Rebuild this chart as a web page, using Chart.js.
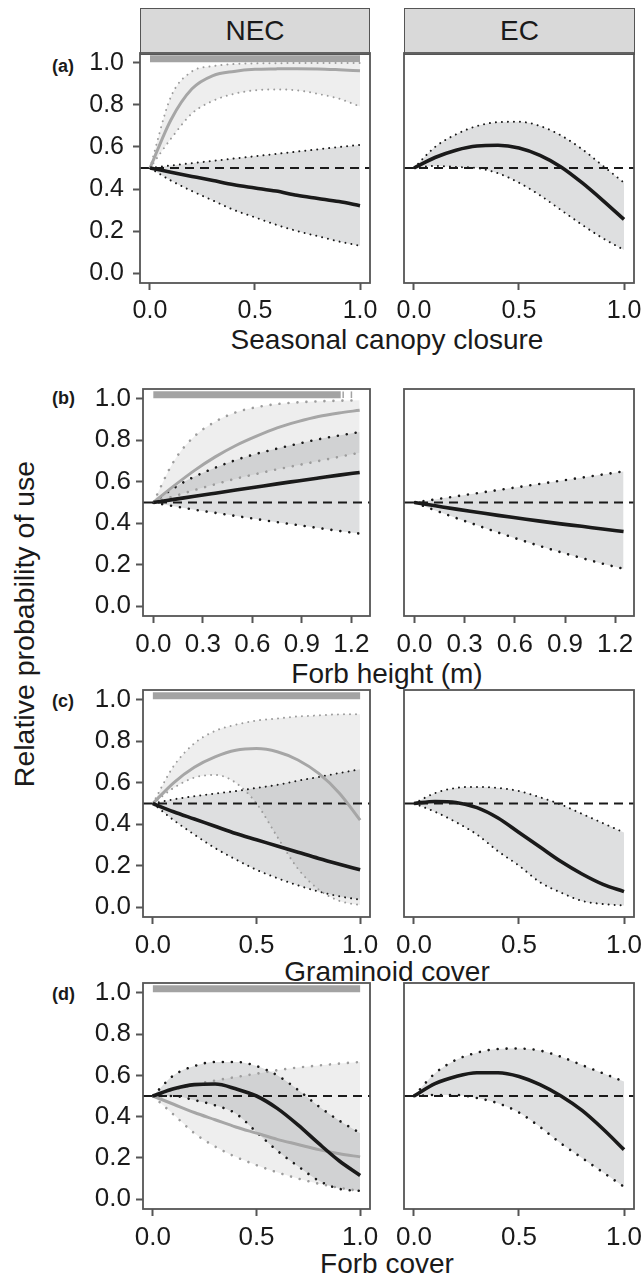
<!DOCTYPE html>
<html>
<head>
<meta charset="utf-8">
<script src="https://cdn.jsdelivr.net/npm/chart.js@4.4.1/dist/chart.umd.min.js"></script>
<style>
  body { margin: 0; width: 643px; height: 1277px; background: #fff; position: relative; overflow: hidden;
         font-family: "Liberation Sans", Arial, sans-serif; color: #1a1a1a; }
  canvas { position: absolute; }
  .strip { position: absolute; background: #d9d9d9; border: 1.6px solid #555; box-sizing: border-box;
           text-align: center; font-size: 28px; line-height: 44px; }
  .txt { position: absolute; transform: translate(-50%, -50%); white-space: nowrap; font-size: 28px; }
  .tag { position: absolute; font-size: 18px; font-weight: bold; transform: translateY(-50%); }
</style>
</head>
<body>
<div class="strip" style="left:140px;top:8px;width:230px;height:47px;">NEC</div>
<div class="strip" style="left:404px;top:8px;width:231px;height:47px;">EC</div>

<div class="tag" style="left:52px;top:66px;">(a)</div>
<div class="tag" style="left:52px;top:398px;">(b)</div>
<div class="tag" style="left:52px;top:701px;">(c)</div>
<div class="tag" style="left:52px;top:994px;">(d)</div>

<div class="txt" style="left:387px;top:340px;">Seasonal canopy closure</div>
<div class="txt" style="left:387px;top:674px;">Forb height (m)</div>
<div class="txt" style="left:387px;top:972px;">Graminoid cover</div>
<div class="txt" style="left:387px;top:1264px;">Forb cover</div>
<div class="txt" style="left:24px;top:624px;font-size:28.5px;transform:translate(-50%,-50%) rotate(-90deg);">Relative probability of use</div>

<script>
// x positions of the fitted curves
const xUnit = [0, 0.1, 0.2, 0.3, 0.4, 0.5, 0.6, 0.7, 0.8, 0.9, 1.0];
const xHeight = [0, 0.125, 0.25, 0.375, 0.5, 0.625, 0.75, 0.875, 1.0, 1.125, 1.25];

// tick labels
const ticksUnit = [0, 0.5, 1.0];
const ticksHeight = [0, 0.3, 0.6, 0.9, 1.2];
const ticksY = [0, 0.2, 0.4, 0.6, 0.8, 1.0];

// (a) seasonal canopy closure
const canopyNecDark   = [0.5, 0.48, 0.46, 0.44, 0.42, 0.405, 0.39, 0.37, 0.355, 0.34, 0.32];
const canopyNecDarkHi = [0.5, 0.512, 0.523, 0.534, 0.545, 0.556, 0.567, 0.578, 0.589, 0.6, 0.61];
const canopyNecDarkLo = [0.5, 0.44, 0.39, 0.345, 0.3, 0.265, 0.23, 0.2, 0.175, 0.15, 0.13];
const canopyNecLight   = [0.5, 0.73, 0.877, 0.94, 0.96, 0.97, 0.972, 0.973, 0.972, 0.968, 0.963];
const canopyNecLightHi = [0.5, 0.84, 0.96, 0.985, 0.995, 0.998, 0.999, 1.0, 1.0, 1.0, 1.0];
const canopyNecLightLo = [0.5, 0.64, 0.76, 0.82, 0.853, 0.87, 0.874, 0.87, 0.853, 0.83, 0.793];
const canopyEc   = [0.5, 0.55, 0.585, 0.605, 0.608, 0.595, 0.56, 0.505, 0.43, 0.345, 0.255];
const canopyEcHi = [0.5, 0.6, 0.66, 0.7, 0.718, 0.72, 0.7, 0.655, 0.59, 0.51, 0.43];
const canopyEcLo = [0.5, 0.51, 0.505, 0.5, 0.475, 0.43, 0.37, 0.3, 0.23, 0.165, 0.11];
const canopyBar = [0, 1.0];

// (b) forb height
const heightNecDark   = [0.5, 0.515, 0.53, 0.545, 0.56, 0.575, 0.59, 0.604, 0.618, 0.632, 0.645];
const heightNecDarkHi = [0.5, 0.57, 0.625, 0.668, 0.705, 0.735, 0.76, 0.783, 0.805, 0.823, 0.84];
const heightNecDarkLo = [0.5, 0.482, 0.465, 0.45, 0.435, 0.42, 0.405, 0.391, 0.377, 0.363, 0.35];
const heightNecLight   = [0.5, 0.58, 0.655, 0.72, 0.775, 0.82, 0.86, 0.89, 0.915, 0.932, 0.945];
const heightNecLightHi = [0.5, 0.7, 0.82, 0.89, 0.935, 0.96, 0.975, 0.983, 0.988, 0.991, 0.993];
const heightNecLightLo = [0.5, 0.53, 0.56, 0.588, 0.615, 0.638, 0.66, 0.68, 0.7, 0.72, 0.74];
const heightEc   = [0.5, 0.484, 0.468, 0.453, 0.438, 0.424, 0.41, 0.397, 0.385, 0.372, 0.36];
const heightEcHi = [0.5, 0.515, 0.53, 0.545, 0.56, 0.575, 0.59, 0.605, 0.62, 0.635, 0.65];
const heightEcLo = [0.5, 0.462, 0.425, 0.39, 0.355, 0.322, 0.29, 0.26, 0.232, 0.205, 0.18];
const heightBar = [0, 1.135];
const heightRug = [1.15, 1.2];

// (c) graminoid cover
const graminoidNecDark   = [0.5, 0.46, 0.425, 0.39, 0.355, 0.325, 0.295, 0.265, 0.235, 0.207, 0.18];
const graminoidNecDarkHi = [0.5, 0.52, 0.535, 0.548, 0.56, 0.575, 0.59, 0.61, 0.628, 0.647, 0.665];
const graminoidNecDarkLo = [0.5, 0.42, 0.35, 0.285, 0.23, 0.18, 0.14, 0.105, 0.075, 0.052, 0.036];
const graminoidNecLight   = [0.5, 0.6, 0.675, 0.725, 0.757, 0.765, 0.75, 0.71, 0.645, 0.55, 0.42];
const graminoidNecLightHi = [0.5, 0.68, 0.79, 0.85, 0.88, 0.9, 0.91, 0.92, 0.925, 0.93, 0.93];
const graminoidNecLightLo = [0.5, 0.575, 0.625, 0.638, 0.6, 0.5, 0.34, 0.185, 0.085, 0.03, 0.01];
const graminoidEc   = [0.5, 0.51, 0.505, 0.48, 0.43, 0.36, 0.29, 0.22, 0.16, 0.11, 0.075];
const graminoidEcHi = [0.5, 0.55, 0.575, 0.58, 0.575, 0.56, 0.53, 0.495, 0.45, 0.405, 0.36];
const graminoidEcLo = [0.5, 0.46, 0.41, 0.35, 0.27, 0.2, 0.12, 0.07, 0.03, 0.015, 0.008];
const graminoidBar = [0, 1.0];

// (d) forb cover
const forbNecDark   = [0.5, 0.535, 0.555, 0.558, 0.535, 0.5, 0.44, 0.36, 0.27, 0.185, 0.115];
const forbNecDarkHi = [0.5, 0.6, 0.645, 0.665, 0.665, 0.645, 0.6, 0.53, 0.45, 0.38, 0.32];
const forbNecDarkLo = [0.5, 0.5, 0.48, 0.455, 0.415, 0.325, 0.235, 0.16, 0.09, 0.05, 0.04];
const forbNecLight   = [0.5, 0.46, 0.42, 0.385, 0.35, 0.32, 0.29, 0.265, 0.24, 0.22, 0.205];
const forbNecLightHi = [0.5, 0.53, 0.555, 0.575, 0.592, 0.608, 0.625, 0.638, 0.648, 0.657, 0.665];
const forbNecLightLo = [0.5, 0.41, 0.32, 0.255, 0.205, 0.165, 0.13, 0.1, 0.075, 0.055, 0.04];
const forbEc   = [0.5, 0.56, 0.595, 0.613, 0.613, 0.595, 0.555, 0.5, 0.43, 0.34, 0.24];
const forbEcHi = [0.5, 0.61, 0.675, 0.71, 0.728, 0.73, 0.72, 0.69, 0.65, 0.61, 0.57];
const forbEcLo = [0.5, 0.505, 0.505, 0.49, 0.465, 0.42, 0.35, 0.27, 0.2, 0.13, 0.06];
const forbBar = [0, 1.0];

const yRange = [-0.0476, 1.0476];
const DARK = '#1a1a1a', GREY = '#a6a6a6', AXIS = '#555';

function pts(xs, ys) { return xs.map((x, i) => ({ x: x, y: ys[i] })); }

// ggplot-like panel border on top of everything
const boxPlugin = {
    id: 'box',
    afterDatasetsDraw(chart) {
        const a = chart.chartArea, ctx = chart.ctx;
        ctx.save();
        ctx.strokeStyle = AXIS;
        ctx.lineWidth = 1.8;
        ctx.strokeRect(a.left, a.top, a.right - a.left, a.bottom - a.top);
        ctx.restore();
    }
};

function makePanel(p) {
    const padTop = 26, xH = 50, yW = p.yLabels ? 60 : 0;
    const padLeft = p.yLabels ? 2 : 24, padRight = 24;
    const cv = document.createElement('canvas');
    cv.width = padLeft + yW + p.W + padRight;
    cv.height = padTop + p.H + xH;
    cv.style.left = (p.L - yW - padLeft) + 'px';
    cv.style.top = (p.T - padTop) + 'px';
    document.body.appendChild(cv);

    const dot = p.dot;
    const font = { family: '"Liberation Sans", Arial, sans-serif', size: p.fs };
    const ds = [];
    // light series (NEC only)
    if (p.light) {
        ds.push({ data: pts(p.xs, p.light[2]), borderColor: '#9c9c9c', borderWidth: dot.w, borderDash: [0.01, dot.gap],
                  borderCapStyle: 'round', fill: { target: ds.length + 1, above: 'rgba(0,0,0,0.065)', below: 'rgba(0,0,0,0.065)' }, order: 6 });
        ds.push({ data: pts(p.xs, p.light[1]), borderColor: '#9c9c9c', borderWidth: dot.w, borderDash: [0.01, dot.gap],
                  borderCapStyle: 'round', fill: false, order: 6 });
    }
    ds.push({ data: pts(p.xs, p.dark[2]), borderColor: DARK, borderWidth: dot.w, borderDash: [0.01, dot.gap],
              borderCapStyle: 'round', fill: { target: ds.length + 1, above: 'rgba(70,75,85,0.18)', below: 'rgba(70,75,85,0.18)' }, order: 5 });
    ds.push({ data: pts(p.xs, p.dark[1]), borderColor: DARK, borderWidth: dot.w, borderDash: [0.01, dot.gap],
              borderCapStyle: 'round', fill: false, order: 5 });
    // reference line at 0.5
    ds.push({ data: [{ x: p.xr[0], y: 0.5 }, { x: p.xr[1], y: 0.5 }], borderColor: DARK, borderWidth: 2.2,
              borderDash: [9, 6], fill: false, order: 4 });
    if (p.light) {
        ds.push({ data: pts(p.xs, p.light[0]), borderColor: GREY, borderWidth: 3, fill: false, order: 3 });
    }
    ds.push({ data: pts(p.xs, p.dark[0]), borderColor: DARK, borderWidth: 3.6, fill: false, order: 2 });
    if (p.bar) {
        ds.push({ data: [{ x: p.bar[0], y: 1.02 }, { x: p.bar[1], y: 1.02 }], borderColor: '#a3a3a3',
                  borderWidth: 7, borderCapStyle: 'butt', fill: false, order: 1 });
    }
    (p.rug || []).forEach(r => {
        ds.push({ data: [{ x: r, y: 1.004 }, { x: r, y: 1.036 }], borderColor: '#a3a3a3',
                  borderWidth: 1.5, fill: false, order: 1 });
    });

    new Chart(cv, {
        type: 'line',
        data: { datasets: ds },
        options: {
            responsive: false,
            animation: false,
            layout: { padding: { top: padTop, left: padLeft, right: padRight, bottom: 0 } },
            elements: { point: { radius: 0 }, line: { cubicInterpolationMode: 'monotone' } },
            plugins: { legend: { display: false }, tooltip: { enabled: false }, filler: { drawTime: 'beforeDatasetsDraw' } },
            scales: {
                x: {
                    type: 'linear', min: p.xr[0], max: p.xr[1],
                    afterBuildTicks: s => { s.ticks = p.xt.map(v => ({ value: v })); },
                    afterFit: s => { s.height = xH; },
                    border: { display: false },
                    grid: { drawOnChartArea: false, drawTicks: true, tickLength: 7, tickColor: AXIS, tickWidth: 2 },
                    ticks: { autoSkip: false, maxRotation: 0, padding: 6, color: DARK, font: font,
                             callback: v => v.toFixed(1) }
                },
                y: {
                    type: 'linear', min: yRange[0], max: yRange[1], display: p.yLabels,
                    afterBuildTicks: s => { s.ticks = ticksY.map(v => ({ value: v })); },
                    afterFit: s => { s.width = yW; },
                    border: { display: false },
                    grid: { drawOnChartArea: false, drawTicks: true, tickLength: 7, tickColor: AXIS, tickWidth: 2 },
                    ticks: { padding: p.yPad, color: DARK, font: font,
                             callback: v => v.toFixed(1) }
                }
            }
        },
        plugins: [boxPlugin]
    });
}

const rangeUnit = [-0.0476, 1.0476];
const rangeHeight = [-0.0625, 1.3125];
const thinDot = { w: 2, gap: 6 };
const thickDot = { w: 2.6, gap: 9 };

const panels = [
    { L: 140, T: 53, W: 230, H: 230, yLabels: true, fs: 25, yPad: 9, xs: xUnit, xr: rangeUnit, xt: ticksUnit, dot: thinDot,
      dark: [canopyNecDark, canopyNecDarkHi, canopyNecDarkLo], light: [canopyNecLight, canopyNecLightHi, canopyNecLightLo], bar: canopyBar },
    { L: 404, T: 53, W: 230, H: 230, yLabels: false, fs: 25, yPad: 9, xs: xUnit, xr: rangeUnit, xt: ticksUnit, dot: thinDot,
      dark: [canopyEc, canopyEcHi, canopyEcLo] },
    { L: 143, T: 389, W: 227, H: 227, yLabels: true, fs: 26, yPad: 5, xs: xHeight, xr: rangeHeight, xt: ticksHeight, dot: thickDot,
      dark: [heightNecDark, heightNecDarkHi, heightNecDarkLo], light: [heightNecLight, heightNecLightHi, heightNecLightLo], bar: heightBar, rug: heightRug },
    { L: 404, T: 389, W: 230, H: 227, yLabels: false, fs: 26, yPad: 5, xs: xHeight, xr: rangeHeight, xt: ticksHeight, dot: thickDot,
      dark: [heightEc, heightEcHi, heightEcLo] },
    { L: 143, T: 690, W: 227, H: 227, yLabels: true, fs: 26, yPad: 5, xs: xUnit, xr: rangeUnit, xt: ticksUnit, dot: thinDot,
      dark: [graminoidNecDark, graminoidNecDarkHi, graminoidNecDarkLo], light: [graminoidNecLight, graminoidNecLightHi, graminoidNecLightLo], bar: graminoidBar },
    { L: 404, T: 690, W: 230, H: 227, yLabels: false, fs: 26, yPad: 5, xs: xUnit, xr: rangeUnit, xt: ticksUnit, dot: thinDot,
      dark: [graminoidEc, graminoidEcHi, graminoidEcLo] },
    { L: 143, T: 983, W: 227, H: 226, yLabels: true, fs: 26, yPad: 5, xs: xUnit, xr: rangeUnit, xt: ticksUnit, dot: thickDot,
      dark: [forbNecDark, forbNecDarkHi, forbNecDarkLo], light: [forbNecLight, forbNecLightHi, forbNecLightLo], bar: forbBar },
    { L: 404, T: 983, W: 230, H: 226, yLabels: false, fs: 26, yPad: 5, xs: xUnit, xr: rangeUnit, xt: ticksUnit, dot: thickDot,
      dark: [forbEc, forbEcHi, forbEcLo] }
];

panels.forEach(makePanel);
</script>
</body>
</html>
